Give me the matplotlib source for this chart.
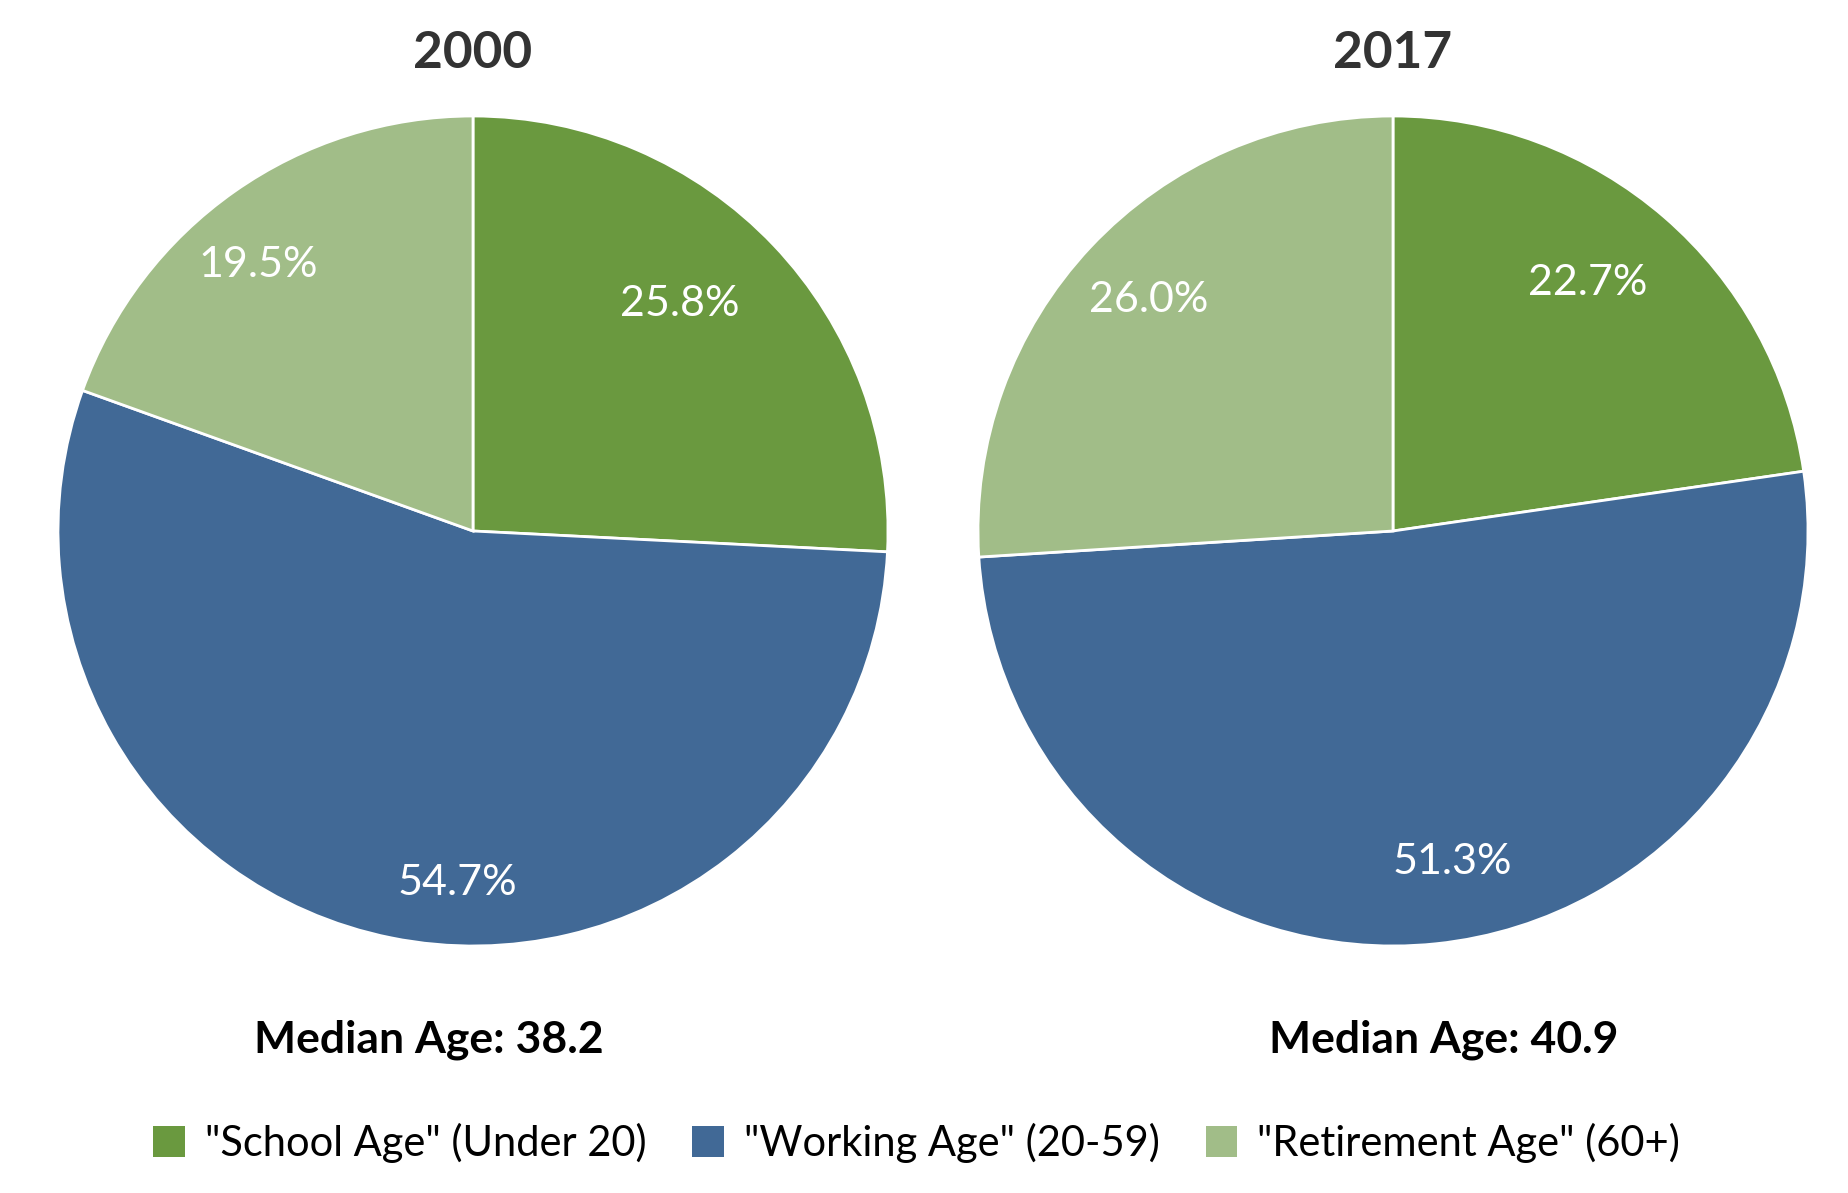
import matplotlib
matplotlib.use('Agg')
import matplotlib.pyplot as plt
from matplotlib.patches import Patch
import numpy as np

plt.rcParams['font.family'] = ['Lato', 'DejaVu Sans']

# Age shares (%) for each year
categories = ['"School Age" (Under 20)', '"Working Age" (20-59)', '"Retirement Age" (60+)']
years = ['2000', '2017']
shares_2000 = [25.8, 54.7, 19.5]
shares_2017 = [22.7, 51.3, 26.0]
median_ages = [38.2, 40.9]

colors = ['#6A993F', '#416996', '#A1BD88']

fig = plt.figure(figsize=(18.48, 11.93), dpi=100)

W, H = 1848, 1193
R = 415
centers = [(473, 531), (1393, 531)]
# label placement: radial distance and angular nudge (deg) per slice
label_dist = [[0.74, 0.85, 0.825], [0.76, 0.81, 0.81]]
label_nudge = [[4.0, 8.8, 3.8], [2.7, 4.2, -0.2]]

for i, (year, shares) in enumerate(zip(years, [shares_2000, shares_2017])):
    cx, cy = centers[i]
    ax = fig.add_axes([(cx - R) / W, (H - cy - R) / H, 2 * R / W, 2 * R / H])
    wedges, _ = ax.pie(shares, colors=colors, startangle=90, counterclock=False,
                       radius=1, wedgeprops=dict(edgecolor='white', linewidth=2))
    ax.set_xlim(-1, 1)
    ax.set_ylim(-1, 1)
    ax.set_aspect('equal')
    ax.axis('off')
    for w in wedges:
        w.set_clip_on(False)
    # percentage labels
    for w, s, d, n in zip(wedges, shares, label_dist[i], label_nudge[i]):
        ang = np.deg2rad((w.theta1 + w.theta2) / 2 + n)
        ax.text(d * np.cos(ang), d * np.sin(ang), f'{s:.1f}%', color='white',
                fontsize=31, ha='center', va='center')
    fig.text(cx / W, 1 - 53 / H, year, ha='center', va='center',
             fontsize=37, fontweight='bold', color='#333333')

fig.text(429 / W, 1 - 1040 / H, f'Median Age: {median_ages[0]}', ha='center', va='center',
         fontsize=32, fontweight='bold', color='black')
fig.text(1444 / W, 1 - 1040 / H, f'Median Age: {median_ages[1]}', ha='center', va='center',
         fontsize=32, fontweight='bold', color='black')

handles = [Patch(facecolor=c, edgecolor='none') for c in colors]
fig.legend(handles, categories, loc='center', bbox_to_anchor=(0.496, 1 - 1143 / H),
           ncol=3, frameon=False, fontsize=30, handlelength=0.76, handleheight=0.76,
           handletextpad=0.48, columnspacing=1.1)

plt.savefig('out.png', dpi=100)
